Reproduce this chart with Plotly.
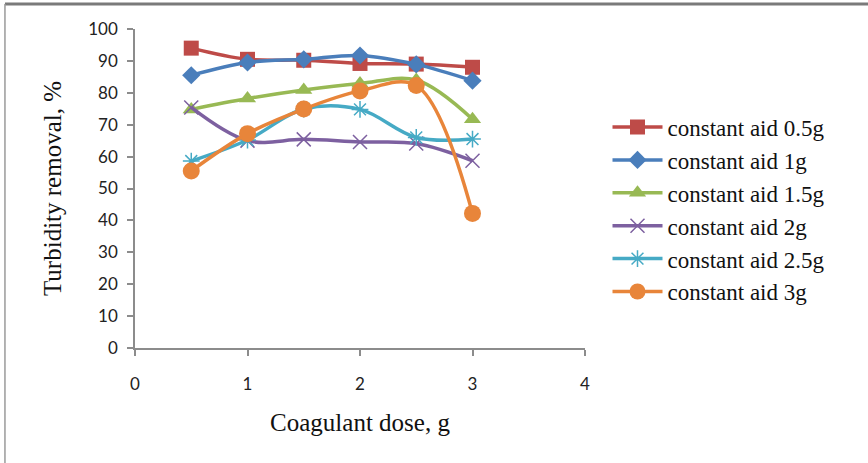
import plotly.graph_objects as go

dose = [0.5, 1, 1.5, 2, 2.5, 3]
aid_05 = [94.0, 90.5, 90.2, 89.2, 89.0, 88.0]
aid_1 = [85.5, 89.5, 90.5, 91.7, 88.9, 83.8]
aid_15 = [74.8, 78.2, 80.9, 82.9, 84.0, 71.7]
aid_2 = [75.4, 65.0, 65.4, 64.6, 64.1, 58.7]
aid_25 = [58.6, 65.2, 74.9, 74.8, 66.0, 65.5]
aid_3 = [55.5, 67.2, 74.9, 80.6, 82.3, 42.2]

names = ["constant aid 0.5g", "constant aid 1g", "constant aid 1.5g",
         "constant aid 2g", "constant aid 2.5g", "constant aid 3g"]
series = [aid_05, aid_1, aid_15, aid_2, aid_25, aid_3]
colors = ["#BE4B48", "#4A7EBB", "#98B954", "#7D60A0", "#46AAC5", "#E8853A"]
symbols = ["square", "diamond", "triangle-up", "x-thin-open", "asterisk-open", "circle"]
sizes = [15, 14, 15, 14, 14, 17]

fig = go.Figure()
for n, s, c, sym, sz in zip(names, series, colors, symbols, sizes):
    marker = dict(symbol=sym, size=sz, color=c)
    if sym.endswith("open"):
        marker["line"] = dict(color=c, width=1.5)
    fig.add_trace(go.Scatter(
        x=dose, y=s, name=n, mode="lines+markers",
        line=dict(color=c, width=3.5, shape="spline", smoothing=1.0),
        marker=marker,
    ))

axis_col = "#8C8C8C"
fig.update_layout(
    width=868, height=463,
    margin=dict(l=135, r=283, t=29, b=115),
    paper_bgcolor="white", plot_bgcolor="white",
    showlegend=True,
    legend=dict(
        x=1.05, y=0.76, xanchor="left", yanchor="top",
        font=dict(family="Liberation Serif", size=23, color="#111111"),
        tracegroupgap=0, itemwidth=50,
        bgcolor="rgba(0,0,0,0)",
    ),
    xaxis=dict(
        range=[0, 4], dtick=1, tick0=0, showgrid=False, zeroline=False,
        showline=True, linecolor=axis_col, linewidth=1.5,
        ticks="outside", ticklen=6, tickcolor=axis_col, tickwidth=1.5,
        ticklabelstandoff=14,
        tickfont=dict(family="Lato", size=17, color="#222222"),
        title=dict(text="Coagulant dose, g", standoff=20,
                   font=dict(family="Liberation Serif", size=25, color="#111111")),
    ),
    yaxis=dict(
        range=[0, 100], dtick=10, tick0=0, showgrid=False, zeroline=False,
        showline=True, linecolor=axis_col, linewidth=1.5,
        ticks="outside", ticklen=6, tickcolor=axis_col, tickwidth=1.5,
        ticklabelstandoff=6,
        tickfont=dict(family="Lato", size=17, color="#222222"),
        title=dict(text="Turbidity removal, %", standoff=20,
                   font=dict(family="Liberation Serif", size=25, color="#111111")),
    ),
    shapes=[
        dict(type="line", xref="paper", yref="paper", x0=-0.289, x1=1.64,
             y0=1.078, y1=1.078, line=dict(color="#7A7A7A", width=3)),
        dict(type="line", xref="paper", yref="paper", x0=-0.289, x1=-0.289,
             y0=1.078, y1=-0.37, line=dict(color="#9A9A9A", width=1.5)),
    ],
)

fig.write_html("out.html")
